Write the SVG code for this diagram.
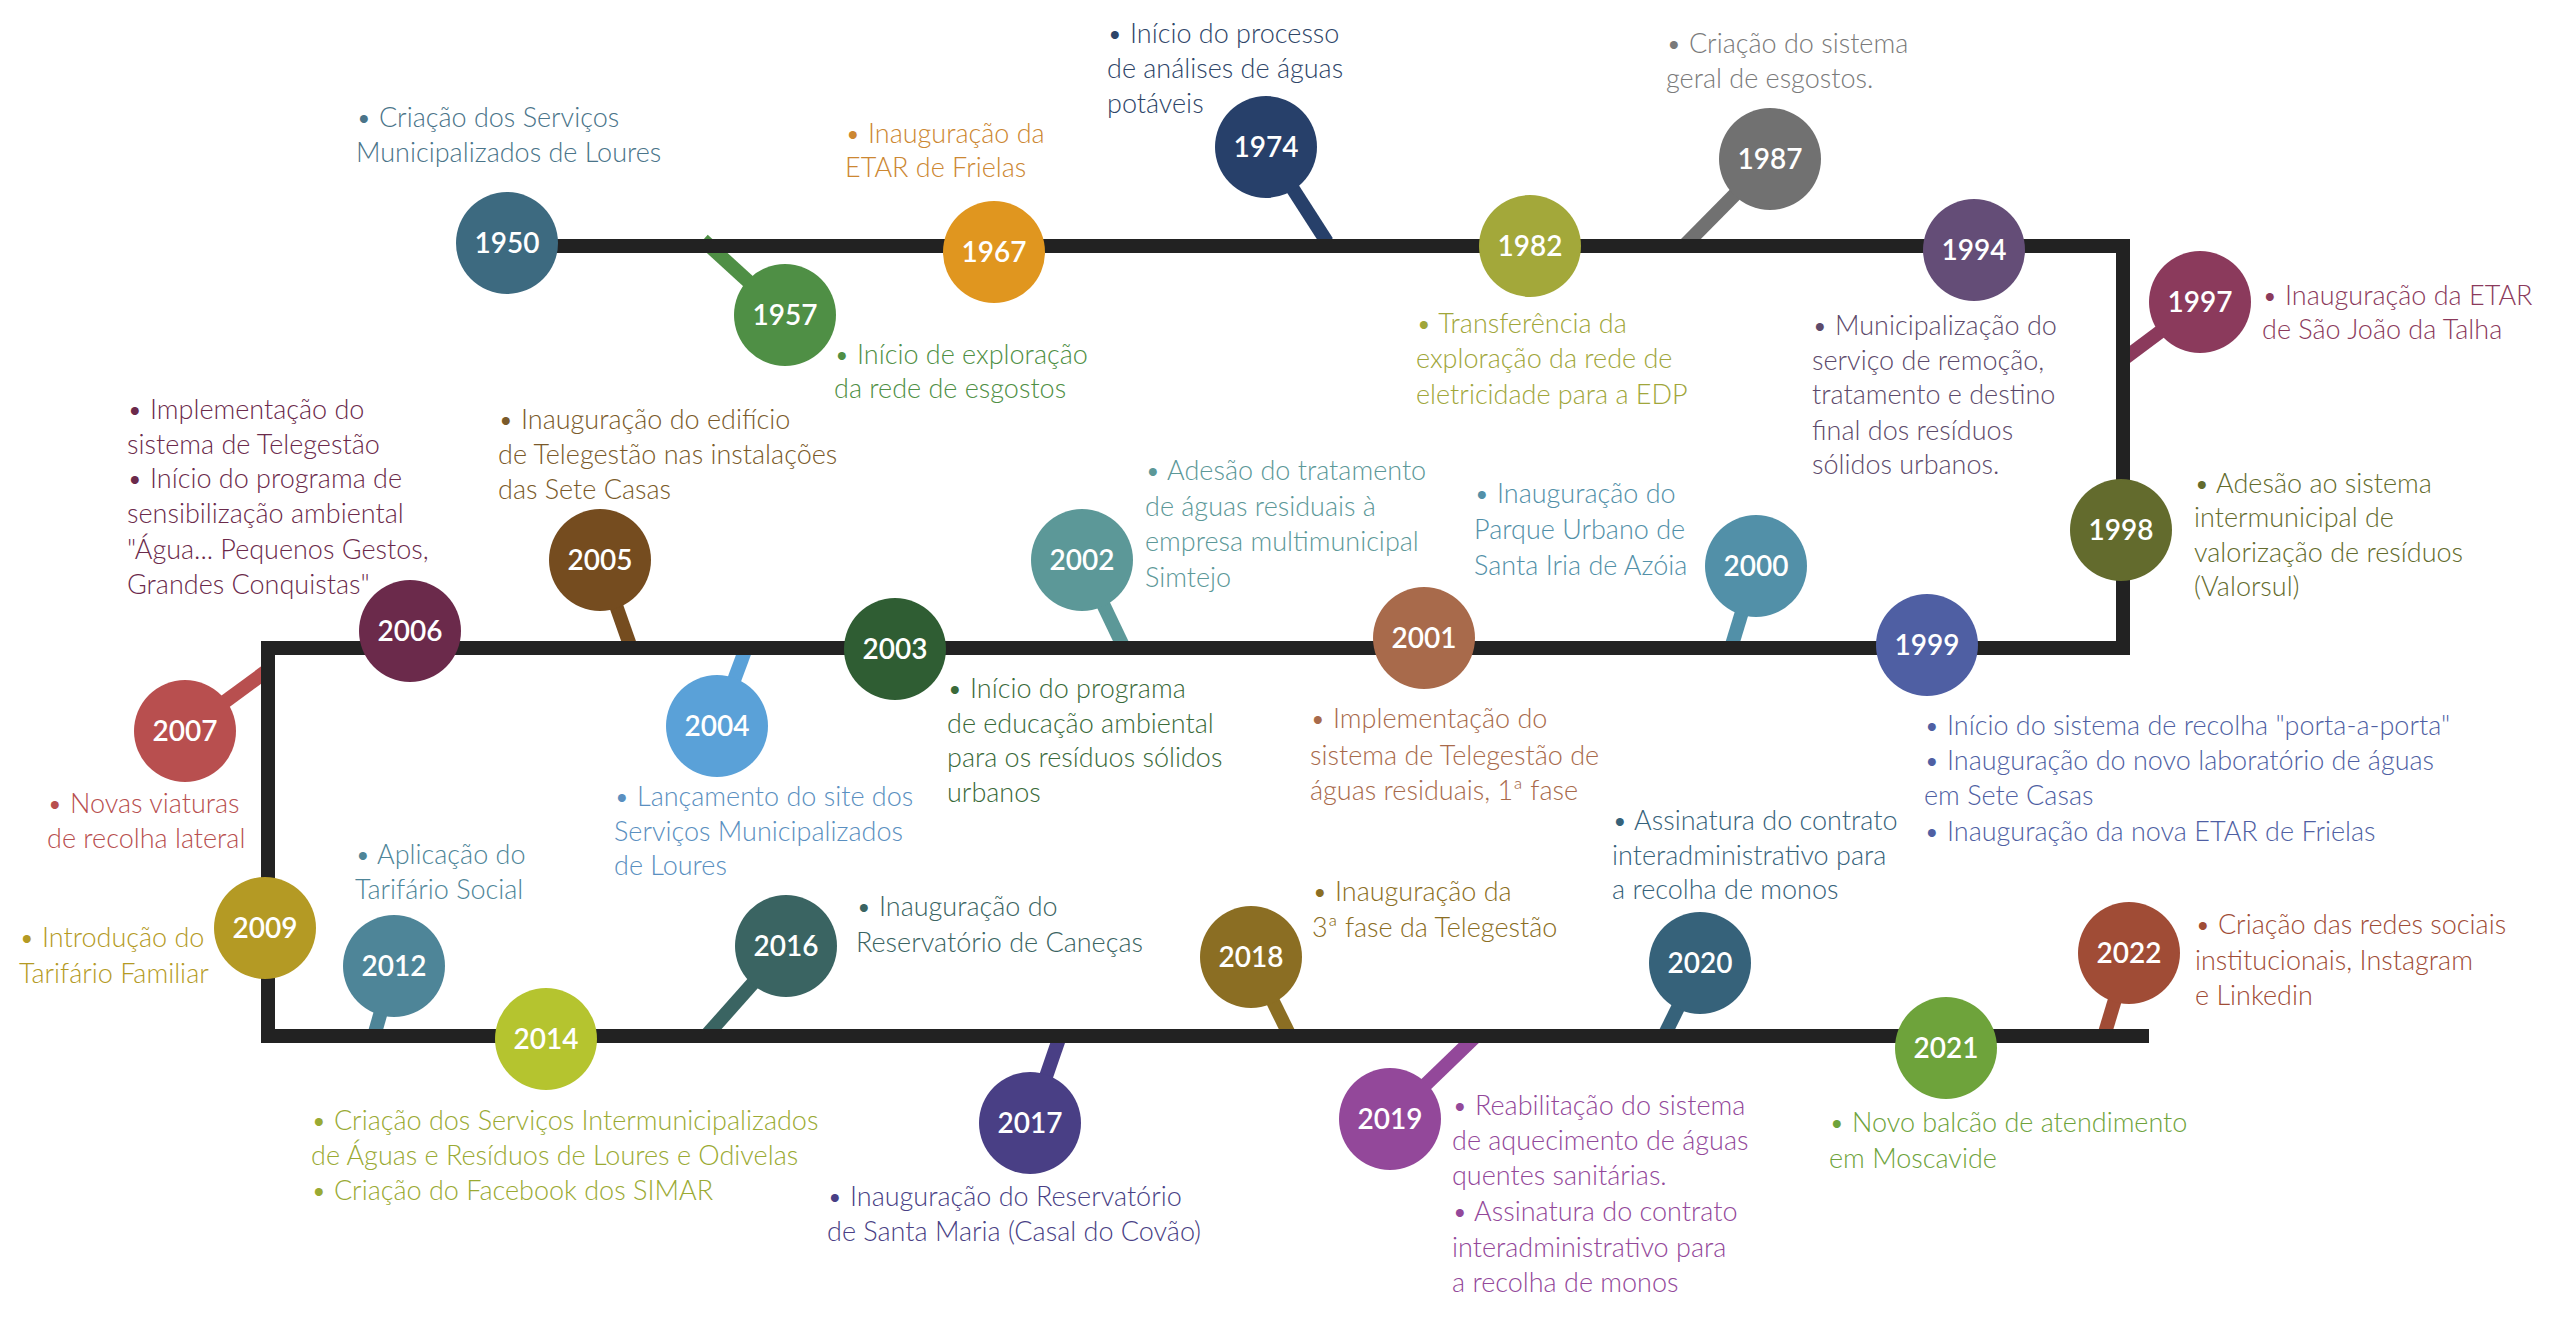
<svg xmlns="http://www.w3.org/2000/svg" width="2560" height="1317" viewBox="0 0 2560 1317">
<style>
.bg{fill:#ffffff}
.main{fill:none;stroke:#222222;stroke-width:14;stroke-linejoin:miter;stroke-linecap:butt}
.stem{stroke-width:14;stroke-linecap:butt}
.yr{font-family:Lato,"Liberation Sans",sans-serif;font-size:28px;font-weight:600;fill:#ffffff;text-anchor:middle}
.d{font-family:Lato,"Liberation Sans",sans-serif;font-size:27px;font-weight:300}
</style>
<rect class="bg" x="0" y="0" width="2560" height="1317"/>
<g id="connectors">
<line class="stem" x1="785" y1="315" x2="703" y2="240" stroke="#4f8f45"/>
<line class="stem" x1="1266" y1="147" x2="1327" y2="242" stroke="#27406a"/>
<line class="stem" x1="1770" y1="159" x2="1686" y2="244" stroke="#717171"/>
<line class="stem" x1="2200" y1="302" x2="2125" y2="358" stroke="#8b3a5c"/>
<line class="stem" x1="1756" y1="566" x2="1731" y2="648" stroke="#5290a8"/>
<line class="stem" x1="1082" y1="560" x2="1124" y2="648" stroke="#5c9898"/>
<line class="stem" x1="600" y1="560" x2="631" y2="648" stroke="#754c1f"/>
<line class="stem" x1="717" y1="726" x2="746" y2="648" stroke="#5aa1d8"/>
<line class="stem" x1="185" y1="731" x2="268" y2="670" stroke="#b84f4f"/>
<line class="stem" x1="394" y1="966" x2="374" y2="1036" stroke="#4e8598"/>
<line class="stem" x1="786" y1="946" x2="706" y2="1036" stroke="#3a6462"/>
<line class="stem" x1="1030" y1="1123" x2="1060" y2="1036" stroke="#493f85"/>
<line class="stem" x1="1251" y1="957" x2="1290" y2="1036" stroke="#8b6e23"/>
<line class="stem" x1="1390" y1="1119" x2="1476" y2="1036" stroke="#93489a"/>
<line class="stem" x1="1700" y1="963" x2="1664" y2="1036" stroke="#36627a"/>
<line class="stem" x1="2129" y1="953" x2="2104" y2="1036" stroke="#a04c36"/>
<polyline class="main" points="507,246 2123,246 2123,648 268,648 268,1036 2149,1036"/>
</g>
<g id="n1950"><circle cx="507" cy="243" r="51" fill="#3d6a80"/><text class="yr" x="507" y="253">1950</text>
<text class="d" fill="#4a7489"><tspan x="356" y="127">• Criação dos Serviços</tspan><tspan x="356" y="162">Municipalizados de Loures</tspan></text></g>
<g id="n1957"><circle cx="785" cy="315" r="51" fill="#4f8f45"/><text class="yr" x="785" y="325">1957</text>
<text class="d" fill="#4f8f45"><tspan x="834" y="364">• Início de exploração</tspan><tspan x="834" y="398">da rede de esgostos</tspan></text></g>
<g id="n1967"><circle cx="994" cy="252" r="51" fill="#e0961f"/><text class="yr" x="994" y="262">1967</text>
<text class="d" fill="#cc8732"><tspan x="845" y="143">• Inauguração da</tspan><tspan x="845" y="177">ETAR de Frielas</tspan></text></g>
<g id="n1974"><circle cx="1266" cy="147" r="51" fill="#27406a"/><text class="yr" x="1266" y="157">1974</text>
<text class="d" fill="#2e4568"><tspan x="1107" y="43">• Início do processo</tspan><tspan x="1107" y="78">de análises de águas</tspan><tspan x="1107" y="113">potáveis</tspan></text></g>
<g id="n1982"><circle cx="1530" cy="246" r="51" fill="#a3a83a"/><text class="yr" x="1530" y="256">1982</text>
<text class="d" fill="#a0a63a"><tspan x="1416" y="333">• Transferência da</tspan><tspan x="1416" y="368">exploração da rede de</tspan><tspan x="1416" y="404">eletricidade para a EDP</tspan></text></g>
<g id="n1987"><circle cx="1770" cy="159" r="51" fill="#717171"/><text class="yr" x="1770" y="169">1987</text>
<text class="d" fill="#7a7a7a"><tspan x="1666" y="53">• Criação do sistema</tspan><tspan x="1666" y="88">geral de esgostos.</tspan></text></g>
<g id="n1994"><circle cx="1974" cy="250" r="51" fill="#644d77"/><text class="yr" x="1974" y="260">1994</text>
<text class="d" fill="#5d4a6b"><tspan x="1812" y="335">• Municipalização do</tspan><tspan x="1812" y="370">serviço de remoção,</tspan><tspan x="1812" y="404">tratamento e destino</tspan><tspan x="1812" y="440">final dos resíduos</tspan><tspan x="1812" y="474">sólidos urbanos.</tspan></text></g>
<g id="n1997"><circle cx="2200" cy="302" r="51" fill="#8b3a5c"/><text class="yr" x="2200" y="312">1997</text>
<text class="d" fill="#8b3a5c"><tspan x="2262" y="305">• Inauguração da ETAR</tspan><tspan x="2262" y="339">de São João da Talha</tspan></text></g>
<g id="n1998"><circle cx="2121" cy="530" r="51" fill="#636b2d"/><text class="yr" x="2121" y="540">1998</text>
<text class="d" fill="#636b2d"><tspan x="2194" y="493">• Adesão ao sistema</tspan><tspan x="2194" y="527">intermunicipal de</tspan><tspan x="2194" y="562">valorização de resíduos</tspan><tspan x="2194" y="596">(Valorsul)</tspan></text></g>
<g id="n1999"><circle cx="1927" cy="645" r="51" fill="#4f5fa3"/><text class="yr" x="1927" y="655">1999</text>
<text class="d" fill="#4f5fa3"><tspan x="1924" y="735">• Início do sistema de recolha "porta-a-porta"</tspan><tspan x="1924" y="770">• Inauguração do novo laboratório de águas</tspan><tspan x="1924" y="805">em Sete Casas</tspan><tspan x="1924" y="841">• Inauguração da nova ETAR de Frielas</tspan></text></g>
<g id="n2000"><circle cx="1756" cy="566" r="51" fill="#5290a8"/><text class="yr" x="1756" y="576">2000</text>
<text class="d" fill="#5290a8"><tspan x="1474" y="503">• Inauguração do</tspan><tspan x="1474" y="539">Parque Urbano de</tspan><tspan x="1474" y="575">Santa Iria de Azóia</tspan></text></g>
<g id="n2001"><circle cx="1424" cy="638" r="51" fill="#a86a4b"/><text class="yr" x="1424" y="648">2001</text>
<text class="d" fill="#a86a4b"><tspan x="1310" y="728">• Implementação do</tspan><tspan x="1310" y="765">sistema de Telegestão de</tspan><tspan x="1310" y="800">águas residuais, 1ª fase</tspan></text></g>
<g id="n2002"><circle cx="1082" cy="560" r="51" fill="#5c9898"/><text class="yr" x="1082" y="570">2002</text>
<text class="d" fill="#5c9898"><tspan x="1145" y="480">• Adesão do tratamento</tspan><tspan x="1145" y="516">de águas residuais à</tspan><tspan x="1145" y="551">empresa multimunicipal</tspan><tspan x="1145" y="587">Simtejo</tspan></text></g>
<g id="n2003"><circle cx="895" cy="649" r="51" fill="#2f5d33"/><text class="yr" x="895" y="659">2003</text>
<text class="d" fill="#3a6a3a"><tspan x="947" y="698">• Início do programa</tspan><tspan x="947" y="733">de educação ambiental</tspan><tspan x="947" y="767">para os resíduos sólidos</tspan><tspan x="947" y="802">urbanos</tspan></text></g>
<g id="n2004"><circle cx="717" cy="726" r="51" fill="#5aa1d8"/><text class="yr" x="717" y="736">2004</text>
<text class="d" fill="#5a8fc0"><tspan x="614" y="806">• Lançamento do site dos</tspan><tspan x="614" y="841">Serviços Municipalizados</tspan><tspan x="614" y="875">de Loures</tspan></text></g>
<g id="n2005"><circle cx="600" cy="560" r="51" fill="#754c1f"/><text class="yr" x="600" y="570">2005</text>
<text class="d" fill="#7a5a2a"><tspan x="498" y="429">• Inauguração do edifício</tspan><tspan x="498" y="464">de Telegestão nas instalações</tspan><tspan x="498" y="499">das Sete Casas</tspan></text></g>
<g id="n2006"><circle cx="410" cy="631" r="51" fill="#6b2a4b"/><text class="yr" x="410" y="641">2006</text>
<text class="d" fill="#6b2a4b"><tspan x="127" y="419">• Implementação do</tspan><tspan x="127" y="454">sistema de Telegestão</tspan><tspan x="127" y="488">• Início do programa de</tspan><tspan x="127" y="523">sensibilização ambiental</tspan><tspan x="127" y="559">"Água... Pequenos Gestos,</tspan><tspan x="127" y="594">Grandes Conquistas"</tspan></text></g>
<g id="n2007"><circle cx="185" cy="731" r="51" fill="#b84f4f"/><text class="yr" x="185" y="741">2007</text>
<text class="d" fill="#b84f4f"><tspan x="47" y="813">• Novas viaturas</tspan><tspan x="47" y="848">de recolha lateral</tspan></text></g>
<g id="n2009"><circle cx="265" cy="928" r="51" fill="#b49a24"/><text class="yr" x="265" y="938">2009</text>
<text class="d" fill="#b49a24"><tspan x="19" y="947">• Introdução do</tspan><tspan x="19" y="983">Tarifário Familiar</tspan></text></g>
<g id="n2012"><circle cx="394" cy="966" r="51" fill="#4e8598"/><text class="yr" x="394" y="976">2012</text>
<text class="d" fill="#4e8598"><tspan x="355" y="864">• Aplicação do</tspan><tspan x="355" y="899">Tarifário Social</tspan></text></g>
<g id="n2014"><circle cx="546" cy="1039" r="51" fill="#b5c42f"/><text class="yr" x="546" y="1049">2014</text>
<text class="d" fill="#9aaa33"><tspan x="311" y="1130">• Criação dos Serviços Intermunicipalizados</tspan><tspan x="311" y="1165">de Águas e Resíduos de Loures e Odivelas</tspan><tspan x="311" y="1200">• Criação do Facebook dos SIMAR</tspan></text></g>
<g id="n2016"><circle cx="786" cy="946" r="51" fill="#3a6462"/><text class="yr" x="786" y="956">2016</text>
<text class="d" fill="#3a6462"><tspan x="856" y="916">• Inauguração do</tspan><tspan x="856" y="952">Reservatório de Caneças</tspan></text></g>
<g id="n2017"><circle cx="1030" cy="1123" r="51" fill="#493f85"/><text class="yr" x="1030" y="1133">2017</text>
<text class="d" fill="#493f85"><tspan x="827" y="1206">• Inauguração do Reservatório</tspan><tspan x="827" y="1241">de Santa Maria (Casal do Covão)</tspan></text></g>
<g id="n2018"><circle cx="1251" cy="957" r="51" fill="#8b6e23"/><text class="yr" x="1251" y="967">2018</text>
<text class="d" fill="#8b6e23"><tspan x="1312" y="901">• Inauguração da</tspan><tspan x="1312" y="937">3ª fase da Telegestão</tspan></text></g>
<g id="n2019"><circle cx="1390" cy="1119" r="51" fill="#93489a"/><text class="yr" x="1390" y="1129">2019</text>
<text class="d" fill="#93489a"><tspan x="1452" y="1115">• Reabilitação do sistema</tspan><tspan x="1452" y="1150">de aquecimento de águas</tspan><tspan x="1452" y="1185">quentes sanitárias.</tspan><tspan x="1452" y="1221">• Assinatura do contrato</tspan><tspan x="1452" y="1257">interadministrativo para</tspan><tspan x="1452" y="1292">a recolha de monos</tspan></text></g>
<g id="n2020"><circle cx="1700" cy="963" r="51" fill="#36627a"/><text class="yr" x="1700" y="973">2020</text>
<text class="d" fill="#36627a"><tspan x="1612" y="830">• Assinatura do contrato</tspan><tspan x="1612" y="865">interadministrativo para</tspan><tspan x="1612" y="899">a recolha de monos</tspan></text></g>
<g id="n2021"><circle cx="1946" cy="1048" r="51" fill="#6ea33b"/><text class="yr" x="1946" y="1058">2021</text>
<text class="d" fill="#6ea33b"><tspan x="1829" y="1132">• Novo balcão de atendimento</tspan><tspan x="1829" y="1168">em Moscavide</tspan></text></g>
<g id="n2022"><circle cx="2129" cy="953" r="51" fill="#a04c36"/><text class="yr" x="2129" y="963">2022</text>
<text class="d" fill="#a04c36"><tspan x="2195" y="934">• Criação das redes sociais</tspan><tspan x="2195" y="970">institucionais, Instagram</tspan><tspan x="2195" y="1005">e Linkedin</tspan></text></g>
</svg>
